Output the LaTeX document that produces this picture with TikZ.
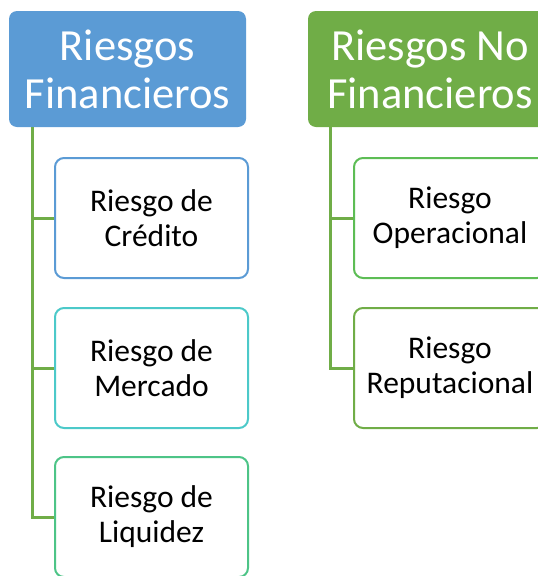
\documentclass[tikz,border=0pt]{standalone}
\usepackage{fontspec}
\setmainfont{Carlito}
\definecolor{hblue}{HTML}{5B9BD5}
\definecolor{hgreen}{HTML}{70AD47}
\definecolor{bteal}{HTML}{4CC9C9}
\definecolor{bmint}{HTML}{4DC487}
\definecolor{bgreen}{HTML}{5DBD55}
\begin{document}
\begin{tikzpicture}[x=1pt,y=-1pt,
  header/.style={rounded corners=8pt,minimum width=237pt,minimum height=116pt,align=center,
     text=white,font=\fontsize{44.5}{48}\selectfont,inner sep=0pt},
  leaf/.style={rounded corners=9pt,draw,line width=2pt,fill=white,minimum width=193pt,minimum height=120pt,
     align=center,text=black,font=\fontsize{31.5}{35}\selectfont,inner sep=0pt},
  conn/.style={draw=hgreen,line width=3pt}]
\useasboundingbox (0,0) rectangle (538,576);
\clip (0,0) rectangle (538,576);
\node[header,fill=hblue] (h1) at (127.5,69) {Riesgos\\Financieros};
\node[header,fill=hgreen,minimum width=244pt] (h2) at (430,69) {Riesgos No\\Financieros};
\coordinate (t1) at (32,127);
\coordinate (t2) at (330,127);
\node[leaf,draw=hblue] (c) at (151.5,218) {Riesgo de\\Crédito};
\node[leaf,draw=bteal] (m) at (151.5,368) {Riesgo de\\Mercado};
\node[leaf,draw=bmint] (l) at (151.5,517) {Riesgo de\\Liquidez};
\node[leaf,draw=bgreen,minimum width=192pt] (o) at (450,218) {Riesgo\\Operacional};
\node[leaf,draw=hgreen,minimum width=192pt] (r) at (450,368) {Riesgo\\Reputacional};
\draw[conn] (t1) |- (l.west);
\draw[conn] (t1 |- c.west) -- (c.west);
\draw[conn] (t1 |- m.west) -- (m.west);
\draw[conn] (t2) |- (r.west);
\draw[conn] (t2 |- o.west) -- (o.west);
\end{tikzpicture}
\end{document}
